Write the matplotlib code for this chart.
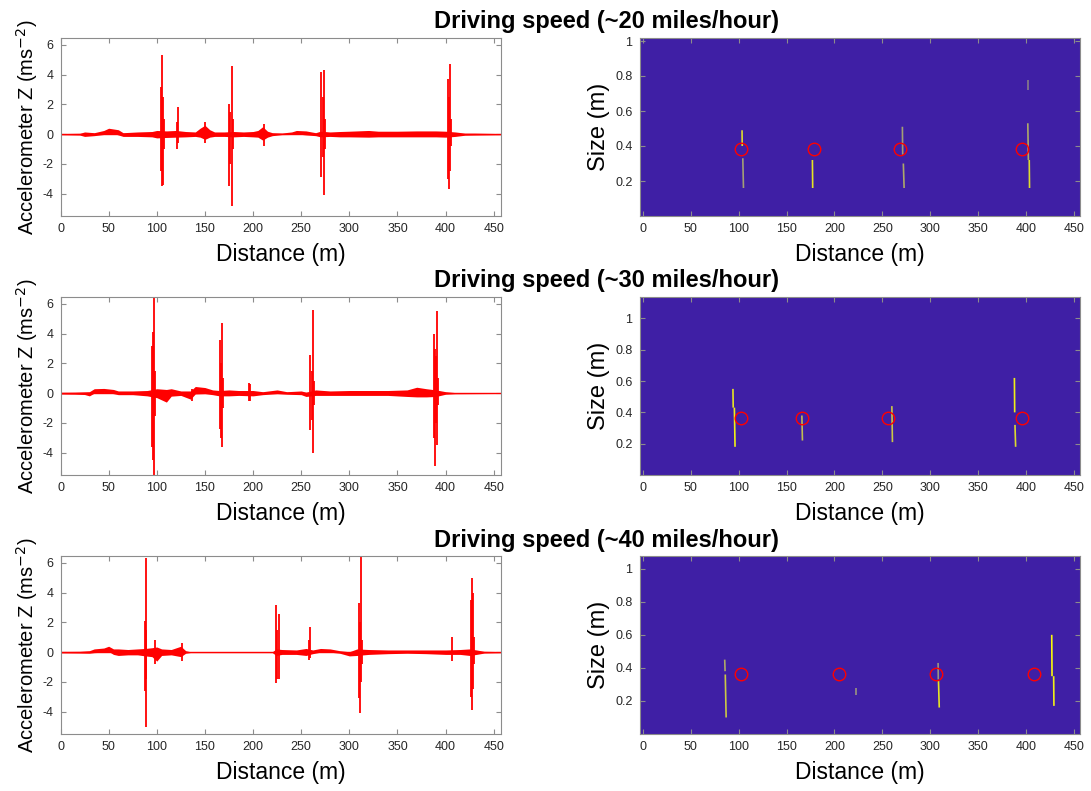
import matplotlib
matplotlib.use('Agg')
import matplotlib.pyplot as plt
from matplotlib.colors import LinearSegmentedColormap

plt.rcParams['font.family'] = ['Liberation Sans', 'DejaVu Sans']
plt.rcParams['axes.unicode_minus'] = False

titles = ['Driving speed (~20 miles/hour)',
          'Driving speed (~30 miles/hour)',
          'Driving speed (~40 miles/hour)']

dist_ticks = [0, 50, 100, 150, 200, 250, 300, 350, 400, 450]
acc_ticks = [-4, -2, 0, 2, 4, 6]
size_ticks = [0.2, 0.4, 0.6, 0.8, 1.0]
size_labels = ['0.2', '0.4', '0.6', '0.8', '1']
size_top = [1.02, 1.14, 1.08]

# noise band of the accelerometer trace: (distance, upper, lower)
band_20 = [(0, 0.04, -0.04), (10, 0.05, -0.05), (20, 0.06, -0.06), (25, 0.15, -0.15),
           (35, 0.1, -0.1), (45, 0.25, -0.02), (50, 0.4, 0.02), (55, 0.35, 0.05),
           (60, 0.3, -0.05), (65, 0.1, -0.15), (80, 0.15, -0.15), (95, 0.18, -0.18),
           (100, 0.25, -0.25), (110, 0.22, -0.22), (120, 0.25, -0.2), (130, 0.18, -0.18),
           (140, 0.15, -0.15), (145, 0.4, -0.2), (150, 0.6, -0.35), (155, 0.3, -0.2),
           (160, 0.15, -0.15), (170, 0.15, -0.15), (180, 0.18, -0.18), (190, 0.15, -0.15),
           (200, 0.18, -0.18), (205, 0.25, -0.2), (210, 0.5, -0.4), (215, 0.2, -0.2),
           (220, 0.1, -0.1), (230, 0.08, -0.03), (240, 0.15, -0.02), (245, 0.25, 0.02),
           (255, 0.22, -0.05), (265, 0.1, -0.1), (270, 0.2, -0.18), (280, 0.15, -0.15),
           (290, 0.18, -0.18), (300, 0.2, -0.18), (320, 0.25, -0.2), (330, 0.2, -0.18),
           (350, 0.2, -0.18), (370, 0.22, -0.18), (390, 0.22, -0.18), (400, 0.2, -0.2),
           (410, 0.15, -0.15), (420, 0.07, -0.07), (430, 0.07, -0.06), (457, 0.04, -0.04)]
band_30 = [(0, 0.06, -0.06), (15, 0.07, -0.07), (25, 0.09, -0.09), (30, 0.1, -0.18),
           (35, 0.3, 0.0), (45, 0.32, 0.05), (55, 0.25, -0.03), (60, 0.15, -0.1),
           (75, 0.15, -0.1), (90, 0.18, -0.18), (100, 0.3, -0.3), (110, 0.25, -0.6),
           (115, 0.3, -0.2), (125, 0.15, -0.15), (135, 0.15, -0.4), (140, 0.45, -0.05),
           (150, 0.38, -0.03), (158, 0.22, -0.1), (165, 0.18, -0.18), (175, 0.22, -0.18),
           (185, 0.18, -0.15), (200, 0.18, -0.18), (210, 0.1, -0.1), (225, 0.22, -0.03),
           (235, 0.1, -0.07), (250, 0.15, -0.1), (255, 0.07, -0.22), (265, 0.22, -0.15),
           (280, 0.15, -0.15), (300, 0.18, -0.15), (320, 0.18, -0.15), (340, 0.18, -0.15),
           (360, 0.22, -0.22), (370, 0.4, -0.25), (380, 0.3, -0.25), (390, 0.22, -0.22),
           (400, 0.1, -0.07), (410, 0.04, -0.04), (457, 0.02, -0.02)]
band_40 = [(0, 0.05, -0.05), (20, 0.06, -0.06), (30, 0.1, -0.07), (35, 0.22, -0.03),
           (45, 0.28, 0.0), (50, 0.4, 0.05), (55, 0.22, -0.15), (60, 0.22, -0.22),
           (70, 0.18, -0.18), (80, 0.22, -0.18), (88, 0.25, -0.25), (95, 0.3, -0.3),
           (100, 0.35, -0.6), (105, 0.22, -0.22), (115, 0.18, -0.18), (125, 0.4, -0.3),
           (130, 0.1, -0.07), (135, 0.03, -0.03), (220, 0.03, -0.03), (224, 0.22, -0.22),
           (230, 0.18, -0.15), (245, 0.15, -0.15), (255, 0.25, -0.22), (262, 0.15, -0.1),
           (270, 0.25, 0.0), (280, 0.22, 0.0), (290, 0.1, -0.07), (300, 0.03, -0.25),
           (308, 0.22, -0.22), (320, 0.18, -0.15), (340, 0.15, -0.1), (360, 0.15, -0.07),
           (380, 0.15, -0.1), (400, 0.15, -0.15), (415, 0.18, -0.15), (425, 0.22, -0.22),
           (432, 0.15, -0.15), (440, 0.06, -0.06), (457, 0.04, -0.04)]

# spikes of the trace: (distance, max, min)
spikes_20 = [(104.5, 3.2, -2.5), (105.5, 5.3, -3.5), (106.5, 2.5, -3.4), (107.5, 1.0, -1.0),
             (121, 0.8, -1.0), (122, 1.8, -0.6), (150, 0.8, -0.6), (175, 2.0, -3.5),
             (176.5, 1.5, -2.0), (178, 4.6, -4.8), (179, 1.0, -1.0), (211, 0.7, -0.8),
             (271, 4.2, -2.9), (272.5, 2.5, -1.5), (274, 4.3, -4.1), (275, 1.0, -1.0),
             (402, 3.7, -3.0), (403.5, 2.5, -3.7), (405, 4.7, -2.5), (406, 1.0, -0.8)]
spikes_30 = [(95, 3.2, -3.6), (96.5, 4.1, -4.5), (97.6, 6.6, -5.6), (98.5, 1.5, -1.5),
             (137, 0.3, -0.5), (165.5, 3.6, -2.4), (167, 2.0, -3.0), (168, 4.7, -3.6),
             (169, 1.0, -1.0), (195.5, 0.7, -0.55), (196.5, 0.65, -0.5), (259.5, 2.6, -2.5),
             (261, 1.5, -1.8), (262, 5.6, -4.0), (263, 0.8, -0.8), (388, 4.0, -3.0),
             (389, 3.0, -4.9), (390, 2.5, -2.0), (391, 5.5, -3.5), (392, 1.0, -0.8)]
spikes_40 = [(88, 2.1, -2.6), (88.6, 6.3, -5.0), (89.3, 1.5, -1.8), (98, 0.8, -0.8),
             (126, 0.6, -0.6), (223.5, 3.2, -2.1), (224.5, 1.5, -1.8), (226.5, 2.6, -1.8),
             (258.5, 0.8, -0.5), (259.5, 1.7, -0.4), (310, 3.3, -3.1), (311, 2.0, -4.1),
             (312, 6.6, -2.0), (313, 0.8, -0.8), (407, 1.0, -0.6), (426, 3.5, -3.0),
             (427.5, 5.0, -3.9), (428.5, 4.0, -2.5), (429.5, 1.0, -0.8)]

# detected streaks in the size map: (x top, size top, x bottom, size bottom, level)
streaks_20 = [(103.5, 0.49, 103.7, 0.40, 0.85), (104.3, 0.33, 105.0, 0.16, 0.55),
              (177.0, 0.32, 177.3, 0.16, 0.9), (271.0, 0.51, 271.3, 0.35, 0.55),
              (272.0, 0.30, 272.8, 0.16, 0.6), (402.0, 0.53, 402.6, 0.32, 0.6),
              (403.5, 0.32, 403.8, 0.16, 0.85), (402.5, 0.78, 402.5, 0.72, 0.4)]
streaks_30 = [(94.0, 0.55, 94.3, 0.43, 0.9), (95.5, 0.43, 96.2, 0.18, 0.95),
              (166.0, 0.38, 166.6, 0.22, 0.7), (260.0, 0.44, 260.6, 0.21, 0.75),
              (388.0, 0.62, 388.3, 0.40, 0.95), (388.6, 0.32, 389.3, 0.18, 0.85)]
streaks_40 = [(85.4, 0.45, 85.8, 0.38, 0.6), (86.0, 0.36, 86.9, 0.10, 0.75),
              (223.0, 0.28, 223.0, 0.235, 0.5), (308.3, 0.43, 308.5, 0.33, 0.5),
              (308.7, 0.32, 309.5, 0.16, 0.9), (427.0, 0.60, 427.3, 0.35, 1.0),
              (429.0, 0.35, 429.3, 0.17, 0.95)]

# marked bump positions (red circles)
circle_x = [[102, 179, 268, 395.5], [102, 166.5, 255.5, 396], [102, 204.7, 306.4, 408]]
circle_y = [0.381, 0.364, 0.361]

bands = [band_20, band_30, band_40]
spikes = [spikes_20, spikes_30, spikes_40]
streaks = [streaks_20, streaks_30, streaks_40]

cmap = LinearSegmentedColormap.from_list('map', ['#3f1fa5', '#9a9480', '#f8f80c'])
spine_col = '#8c8c8c'
text_col = '#262626'

fig = plt.figure(figsize=(10.91, 7.91), dpi=100)
W, H = 1091, 791
rows_px = [(37.5, 216), (296.5, 475), (555.5, 734)]
title_base = [28, 287, 547]


def style(ax):
    ax.tick_params(direction='in', top=True, right=True, length=3.5, width=0.8,
                   color=spine_col, labelcolor=text_col, labelsize=9, pad=5)
    for s in ax.spines.values():
        s.set_color(spine_col)
        s.set_linewidth(0.8)


for i in range(3):
    top, bot = rows_px[i]
    # left: accelerometer trace
    ax = fig.add_axes([60.5 / W, 1 - bot / H, 440 / W, (bot - top) / H])
    bx = [b[0] for b in bands[i]]
    bu = [b[1] for b in bands[i]]
    bl = [b[2] for b in bands[i]]
    ax.fill_between(bx, bl, bu, color='red', lw=0)
    ax.plot(bx, [0] * len(bx), color='red', lw=1.0)
    sx = [s[0] for s in spikes[i]]
    st = [s[1] for s in spikes[i]]
    sb = [s[2] for s in spikes[i]]
    ax.vlines(sx, sb, st, color='red', lw=1.3)
    ax.set_xlim(0, 457)
    ax.set_ylim(-5.5, 6.5)
    ax.set_xticks(dist_ticks)
    ax.set_yticks(acc_ticks)
    ax.set_xlabel('Distance (m)', fontsize=16.5, labelpad=6)
    ax.set_ylabel('Accelerometer Z (ms$^{-2}$)', fontsize=14.5, labelpad=2)
    style(ax)

    # right: size map
    ax2 = fig.add_axes([639.5 / W, 1 - bot / H, 440 / W, (bot - top) / H])
    ax2.set_facecolor('#3f1fa5')
    for x0, y0, x1, y1, lev in streaks[i]:
        ax2.plot([x0, x1], [y0, y1], color=cmap(lev), lw=1.2, solid_capstyle='butt')
    ax2.plot(circle_x[i], [circle_y[i]] * len(circle_x[i]), 'o', ms=9,
             mfc='none', mec='red', mew=1.0)
    ax2.set_xlim(-3.6, 456)
    ax2.set_ylim(0, size_top[i])
    ax2.set_xticks(dist_ticks)
    ax2.set_yticks(size_ticks)
    ax2.set_yticklabels(size_labels)
    ax2.set_xlabel('Distance (m)', fontsize=16.5, labelpad=6)
    ax2.set_ylabel('Size (m)', fontsize=17, labelpad=4)
    style(ax2)

    fig.text(606 / W, 1 - title_base[i] / H, titles[i], ha='center', va='baseline',
             fontsize=17, fontweight='bold', color='black')

fig.savefig('out.png', dpi=100)
